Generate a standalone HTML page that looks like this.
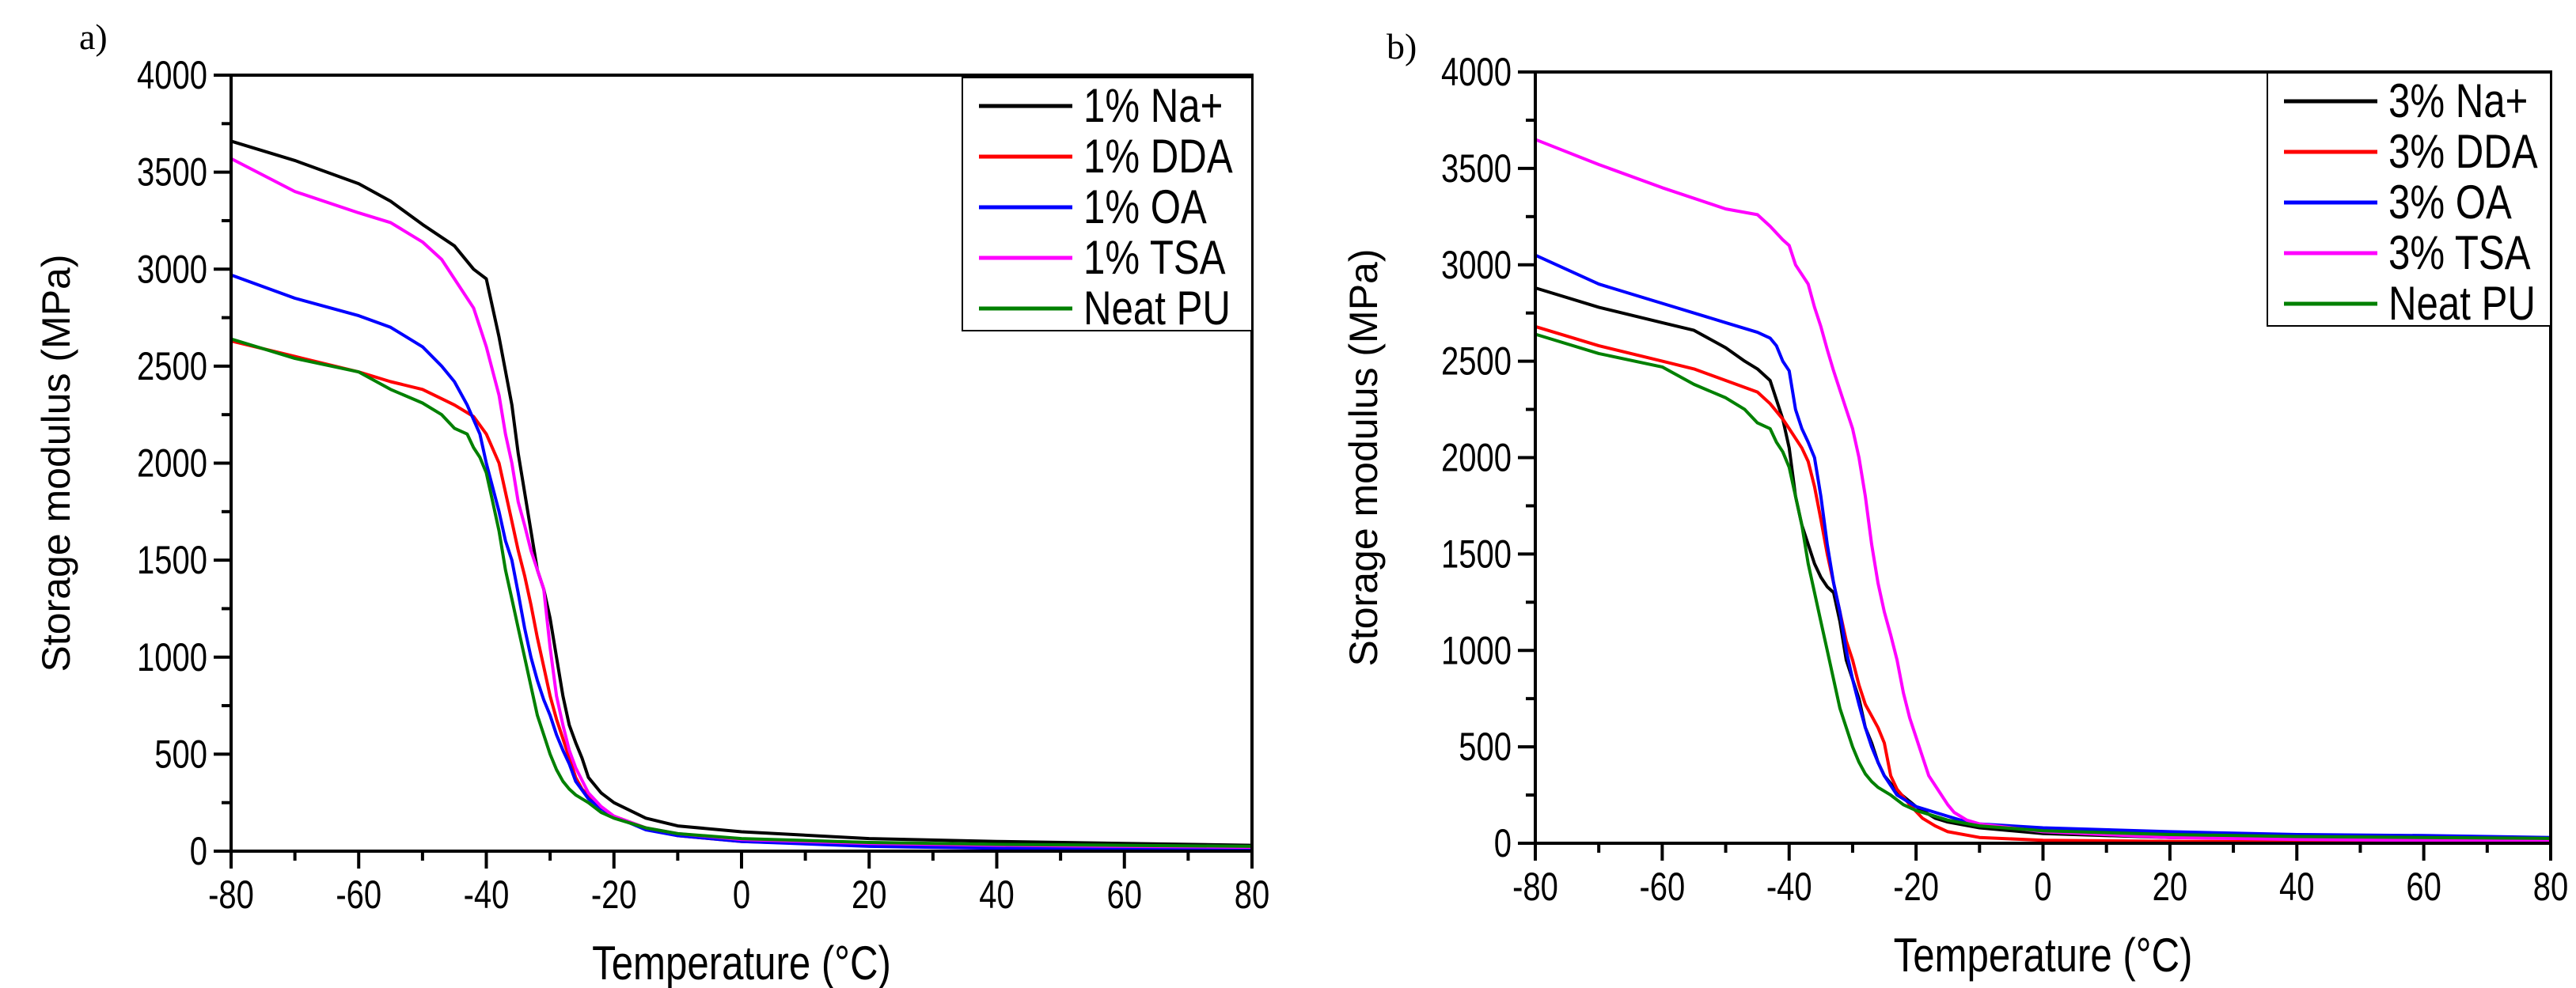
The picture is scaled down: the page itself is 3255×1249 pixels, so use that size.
<!DOCTYPE html>
<html><head><meta charset="utf-8"><style>
html,body{margin:0;padding:0;background:#fff;}
svg{display:block;}
text{font-family:"Liberation Sans",sans-serif;fill:#000;}
</style></head><body>
<svg id="chart" width="3255" height="1249" viewBox="0 0 3255 1249" xmlns="http://www.w3.org/2000/svg"></svg>
<script>
// ---- data ----
const neatX=[-80,-70,-60,-55,-50,-47,-45,-43,-42,-41,-40,-39,-38,-37,-36,-35,-34,-33,-32,-31,-30,-29,-28,-27,-26,-24,-22,-20,-15,-10,0,20,40,60,80];
const neatY=[2640,2540,2470,2380,2310,2250,2180,2150,2080,2030,1950,1800,1650,1450,1300,1150,1000,850,700,600,500,420,360,320,290,250,200,170,120,90,65,45,35,30,25];

const aNaX=[-80,-70,-60,-55,-50,-45,-42,-40,-38,-36,-35,-34,-33,-32,-31,-30,-29,-28,-27,-26,-25,-24,-22,-20,-15,-10,0,20,40,60,80];
const aNaY=[3660,3560,3440,3350,3230,3120,3000,2950,2650,2300,2050,1850,1650,1450,1350,1200,1000,800,650,560,480,380,300,250,170,130,100,65,50,40,30];
const aDdaX=[-80,-70,-60,-55,-50,-45,-42,-40,-38,-37,-36,-35,-34,-33,-32,-31,-30,-29,-28,-27,-26,-25,-22,-20,-15,-10,0,20,40,60,80];
const aDdaY=[2630,2550,2470,2420,2380,2300,2240,2150,2000,1850,1700,1550,1420,1270,1100,950,800,680,580,480,380,320,220,180,120,80,50,30,20,15,10];
const aOaX=[-80,-70,-60,-55,-50,-47,-45,-43,-41,-40,-38,-37,-36,-35,-34,-33,-32,-31,-30,-29,-28,-27,-26,-24,-22,-20,-15,-10,0,20,40,60,80];
const aOaY=[2970,2850,2760,2700,2600,2500,2420,2300,2150,2000,1750,1600,1500,1330,1150,1000,880,780,700,600,520,450,360,270,220,180,110,80,50,25,15,10,5];
const aTsaX=[-80,-70,-60,-55,-50,-47,-45,-42,-40,-38,-37,-36,-35,-34,-33,-32,-31,-30,-29,-28,-27,-26,-24,-22,-20,-15,-10,0,20,40,60,80];
const aTsaY=[3570,3400,3290,3240,3140,3050,2950,2800,2600,2350,2150,2000,1800,1680,1550,1450,1350,1050,800,650,520,430,300,230,180,120,90,60,40,30,25,20];

const bNaX=[-80,-70,-60,-55,-50,-47,-45,-43,-42,-41,-40,-39,-38,-37,-36,-35,-34,-33,-32,-31,-30,-29,-28,-27,-26,-25,-23,-20,-17,-15,-10,0,20,40,60,80];
const bNaY=[2880,2780,2700,2660,2570,2500,2460,2400,2300,2200,2050,1800,1650,1550,1450,1380,1330,1300,1150,950,850,750,600,520,420,350,270,190,130,110,80,50,30,25,20,15];
const bDdaX=[-80,-70,-60,-55,-50,-45,-43,-41,-40,-38,-37,-36,-35,-34,-33,-32,-31,-30,-29,-28,-27,-26,-25,-24,-23,-21,-19,-17,-15,-10,0,20,40,60,80];
const bDdaY=[2680,2580,2500,2460,2400,2340,2280,2200,2150,2050,1980,1850,1680,1500,1350,1200,1050,950,820,720,660,600,520,350,280,200,130,90,60,30,15,10,8,6,5];
const bOaX=[-80,-70,-60,-50,-45,-43,-42,-41,-40,-39,-38,-37,-36,-35,-34,-33,-32,-31,-30,-29,-28,-27,-26,-25,-23,-20,-17,-15,-12,-10,0,20,40,60,80];
const bOaY=[3050,2900,2800,2700,2650,2620,2580,2500,2450,2250,2150,2080,2000,1800,1550,1350,1200,1000,850,720,600,500,420,350,250,190,160,140,110,100,80,60,45,40,30];
const bTsaX=[-80,-70,-60,-50,-45,-43,-41,-40,-39,-37,-36,-35,-34,-33,-32,-31,-30,-29,-28,-27,-26,-25,-24,-23,-22,-21,-20,-19,-18,-17,-16,-15,-14,-12,-10,0,20,40,60,80];
const bTsaY=[3650,3520,3400,3290,3260,3200,3130,3100,3000,2900,2780,2680,2560,2450,2350,2250,2150,2000,1800,1550,1350,1200,1080,950,780,650,550,450,350,300,250,200,160,120,100,60,30,20,15,10];

const xTicks=[-80,-60,-40,-20,0,20,40,60,80];
const yTicks=[0,500,1000,1500,2000,2500,3000,3500,4000];
const colors=["#000000","#ff0000","#0000ff","#ff00ff","#008000"];

const NS="http://www.w3.org/2000/svg";
const svg=document.getElementById('chart');
function mk(tag,attrs,parent){const e=document.createElementNS(NS,tag);for(const k in attrs)e.setAttribute(k,attrs[k]);(parent||svg).appendChild(e);return e;}

function panel(P){
  const g=mk('g',{});
  
  
  const sx=v=>P.l+(v+80)/160*(P.r-P.l);
  const sy=v=>P.b-v/4000*(P.b-P.t);
  P.series.forEach((s,i)=>{
    const d=s.x.map((xv,j)=>(j?'L':'M')+sx(xv).toFixed(1)+','+sy(s.y[j]).toFixed(1)).join('');
    const p=mk('path',{d:d,fill:'none',stroke:colors[i],'stroke-width':4,'stroke-linejoin':'round'},g);
    
    
  });
  const fr=mk('rect',{x:P.l,y:P.t,width:P.r-P.l,height:P.b-P.t,fill:'none',stroke:'#000','stroke-width':4},g);
  
  
  for(let v=-80;v<=80;v+=10){
    const major=v%20===0;
    mk('line',{x1:sx(v),x2:sx(v),y1:P.b,y2:P.b+(major?22:12),stroke:'#000','stroke-width':4},g);
  }
  xTicks.forEach(v=>{
    const t=mk('text',{transform:`translate(${sx(v)},${P.b+72}) scale(0.8,1)`,'font-size':50,'text-anchor':'middle'},g);
    t.textContent=String(v);
    
    
  });
  for(let v=0;v<=4000;v+=250){
    const major=v%500===0;
    mk('line',{x1:P.l-(major?22:12),x2:P.l,y1:sy(v),y2:sy(v),stroke:'#000','stroke-width':4},g);
  }
  yTicks.forEach(v=>{
    const t=mk('text',{transform:`translate(${P.l-30},${sy(v)+17}) scale(0.8,1)`,'font-size':50,'text-anchor':'end'},g);
    t.textContent=String(v);
    
    
  });
  const yt=mk('text',{transform:`translate(${P.ytx},${(P.t+P.b)/2}) rotate(-90)`,'font-size':50,'text-anchor':'middle'},g);
  yt.textContent='Storage modulus (MPa)';
  
  
  const xt=mk('text',{transform:`translate(${(P.l+P.r)/2},${P.b+162}) scale(0.82,1)`,'font-size':60,'text-anchor':'middle'},g);
  xt.textContent='Temperature (°C)';
  
  
  const pl=mk('text',{x:P.lx,y:P.ly,'font-size':46,style:'font-family:"Liberation Serif",serif'},g);
  pl.textContent=P.label;
  
  
  const lg=mk('g',{},g);
  
  
  mk('rect',{x:P.lgx,y:P.lgy,width:P.r-P.lgx,height:320,fill:'#fff',stroke:'#000','stroke-width':2},lg);
  P.series.forEach((s,i)=>{
    const yy=P.lgy+36+i*64;
    const e=mk('g',{},lg);
    
    
    mk('line',{x1:P.lgx+21,x2:P.lgx+139,y1:yy,y2:yy,stroke:colors[i],'stroke-width':5},e);
    const t=mk('text',{transform:`translate(${P.lgx+153},${yy+20}) scale(0.82,1)`,'font-size':60},e);
    t.textContent=s.label;
  });
}

panel({name:'panel-a',l:292,r:1582,t:95,b:1076,ytx:88,lx:100,ly:62,label:'a)',lgx:1216,lgy:98,
  series:[{key:'na',label:'1% Na+',x:aNaX,y:aNaY},{key:'dda',label:'1% DDA',x:aDdaX,y:aDdaY},{key:'oa',label:'1% OA',x:aOaX,y:aOaY},{key:'tsa',label:'1% TSA',x:aTsaX,y:aTsaY},{key:'neat',label:'Neat PU',x:neatX,y:neatY}]});
panel({name:'panel-b',l:1940,r:3223,t:91,b:1066,ytx:1740,lx:1752,ly:74,label:'b)',lgx:2865,lgy:92,
  series:[{key:'na',label:'3% Na+',x:bNaX,y:bNaY},{key:'dda',label:'3% DDA',x:bDdaX,y:bDdaY},{key:'oa',label:'3% OA',x:bOaX,y:bOaY},{key:'tsa',label:'3% TSA',x:bTsaX,y:bTsaY},{key:'neat',label:'Neat PU',x:neatX,y:neatY}]});
</script>
</body></html>
